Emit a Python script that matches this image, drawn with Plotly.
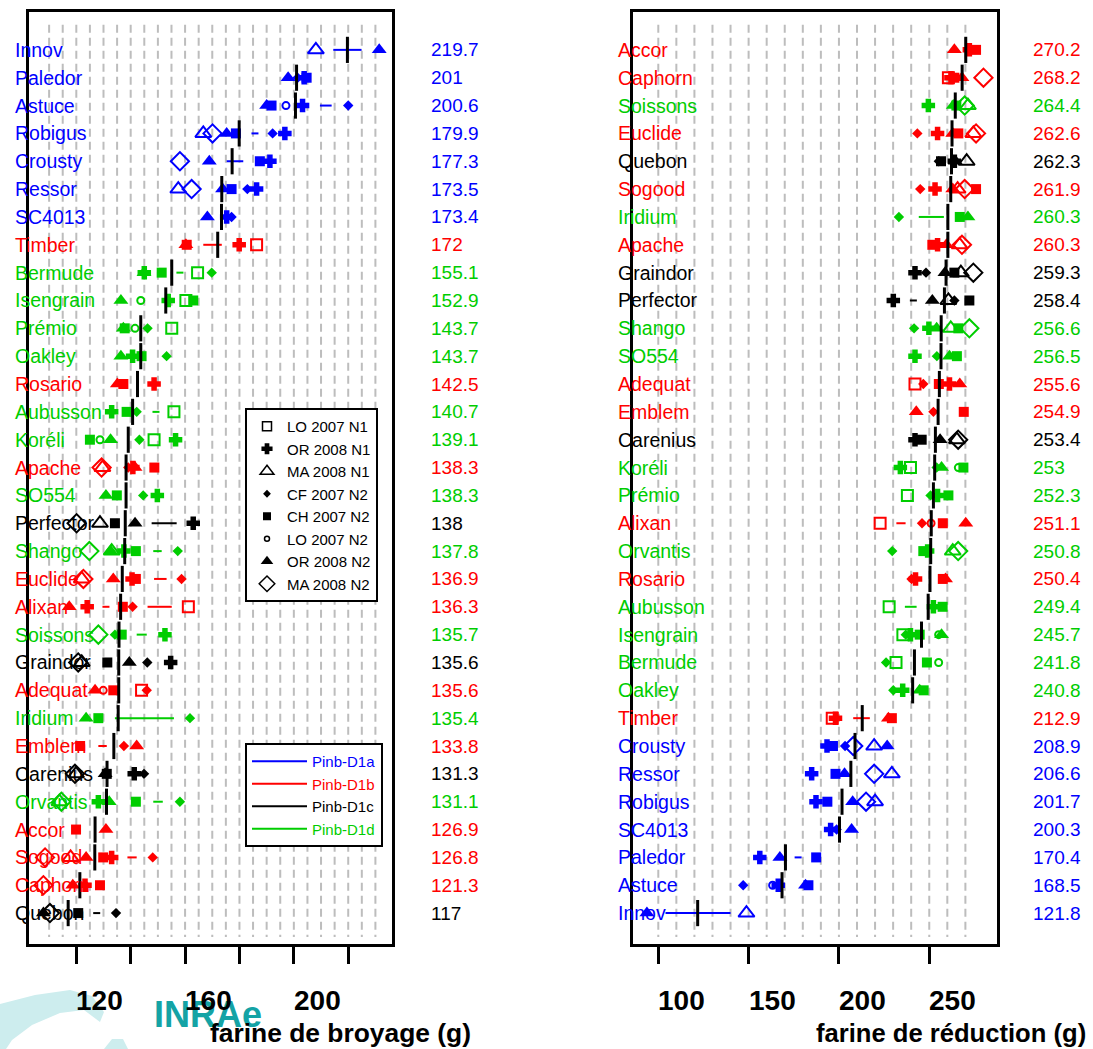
import plotly.graph_objects as go

W, H = 1093, 1049
N = None
FONT = "Liberation Sans, Arial, sans-serif"

trials = ["LO 2007 N1", "OR 2008 N1", "MA 2008 N1", "CF 2007 N2",
          "CH 2007 N2", "LO 2007 N2", "OR 2008 N2", "MA 2008 N2"]
trial_symbols = ["square-open", "cross", "triangle-up-open", "diamond",
                 "square", "circle-open", "triangle-up", "diamond-open"]
trial_sizes = [11, 10, 14, 8, 10, 7, 13, 14]
trial_linew = [2, 1.5, 2, 0, 0, 2, 0, 2]

allele_of = {
    "Innov": "a", "Paledor": "a", "Astuce": "a", "Robigus": "a", "Crousty": "a",
    "Ressor": "a", "SC4013": "a", "Timber": "b", "Bermude": "d", "Isengrain": "d",
    "Prémio": "d", "Oakley": "d", "Rosario": "b", "Aubusson": "d", "Koréli": "d",
    "Apache": "b", "SO554": "d", "Perfector": "c", "Shango": "d", "Euclide": "b",
    "Alixan": "b", "Soissons": "d", "Graindor": "c", "Adequat": "b", "Iridium": "d",
    "Emblem": "b", "Carenius": "c", "Orvantis": "d", "Accor": "b", "Sogood": "b",
    "Caphorn": "b", "Quebon": "c",
}
allele_names = ["Pinb-D1a", "Pinb-D1b", "Pinb-D1c", "Pinb-D1d"]
allele_keys = ["a", "b", "c", "d"]
allele_colors = {"a": "#0000FF", "b": "#FF0000", "c": "#000000", "d": "#00CD00"}

# ---------------- left panel : farine de broyage ----------------
left_varieties = ["Innov", "Paledor", "Astuce", "Robigus", "Crousty", "Ressor", "SC4013",
                  "Timber", "Bermude", "Isengrain", "Prémio", "Oakley", "Rosario",
                  "Aubusson", "Koréli", "Apache", "SO554", "Perfector", "Shango",
                  "Euclide", "Alixan", "Soissons", "Graindor", "Adequat", "Iridium",
                  "Emblem", "Carenius", "Orvantis", "Accor", "Sogood", "Caphorn", "Quebon"]
left_means = [219.7, 201, 200.6, 179.9, 177.3, 173.5, 173.4, 172, 155.1, 152.9, 143.7,
              143.7, 142.5, 140.7, 139.1, 138.3, 138.3, 138, 137.8, 136.9, 136.3, 135.7,
              135.6, 135.6, 135.4, 133.8, 131.3, 131.1, 126.9, 126.8, 121.3, 117]
left_LO07N1 = [N, N, N, N, N, N, N, 186.3, 164.6, 160.3, 155.1, N, N, 155.9, 148.6, N,
               N, N, N, N, 161.2, N, N, 144.0, N, N, N, N, N, N, N, N]
left_OR08N1 = [N, 203.8, 203.2, 196.7, 191.2, 186.3, 175.3, 179.9, 145.0, 153.8, N, 140.7,
               148.6, 133.0, 156.5, 140.8, 149.8, 163.0, 137.5, 140.5, 124.0, 152.6, 154.7,
               N, N, N, 141.3, 128.1, N, 133.0, 123.2, N]
left_MA08N1 = [208.1, N, N, 166.7, N, 157.5, N, N, N, N, N, N, N, N, N, 129.6, N, 128.7,
               133.0, 122.0, N, N, 122.0, N, N, N, 119.9, 113.8, N, 117.9, N, N]
left_CF07N2 = [N, 201.4, 220.0, 192.2, N, 182.9, 177.1, N, 169.8, N, 146.2, 153.2, N,
               142.2, 143.2, 139.1, 144.6, N, 157.3, 158.7, 140.7, 134.2, 146.1, 145.9,
               161.8, 137.5, 144.9, 158.1, N, 148.1, N, 134.6]
left_CH07N2 = [N, 204.7, 191.8, 178.7, 187.5, 177.1, N, 160.6, 151.4, 163.0, 137.8, 144.0,
               137.3, 138.5, 125.0, 148.7, 134.9, 134.2, 141.9, 141.9, 137.1, 136.7, 131.4,
               133.6, 128.1, 121.4, 131.2, 141.9, 119.9, 129.9, 128.7, 120.7]
left_LO07N2 = [N, N, 197.1, N, N, N, N, N, N, 143.7, 141.6, N, N, N, 128.7, N, N, N, N,
               N, N, N, N, 129.9, N, N, N, N, N, N, N, N]
left_OR08N2 = [231.4, 197.9, 190.0, 175.3, 168.9, 173.8, 168.2, 160.3, 144.9, 136.4, 137.3,
               136.4, 135.1, N, 132.6, 141.6, 130.9, 141.6, 132.6, 133.6, 117.4, N, 139.5,
               126.9, 123.6, 142.2, 130.6, 132.1, 130.9, 123.6, 118.7, 107.9]
left_MA08N2 = [N, N, N, 170.1, 158.1, 162.4, N, N, N, N, N, N, N, N, N, 129.3, N, 120.1,
               124.8, 122.6, N, 128.1, 120.7, N, N, N, 119.5, 114.5, N, 108.5, 107.9, 110.3]
left_seg_lo = [214.5, N, 209.6, N, 175.3, N, N, 166.7, N, N, N, N, N, N, N, N, N, 147.7,
               148.3, 148.6, 146.2, 142.2, N, N, 134.2, 128.1, N, 148.3, N, 138.8, N, N]
left_seg_hi = [224.9, N, 213.9, N, 181.4, N, N, 173.5, N, N, N, N, N, N, N, N, N, 156.9,
               151.4, 153.2, 155.1, 145.9, N, N, 155.9, 131.2, N, 151.8, N, 142.2, N, N]
left_dash = [N, N, N, 185.7, N, N, N, N, 158.1, N, N, N, N, 149.3, N, N, N, N, N, N,
             130.9, N, N, N, N, N, N, N, N, N, N, 127.5]

# ---------------- right panel : farine de réduction ----------------
right_varieties = ["Accor", "Caphorn", "Soissons", "Euclide", "Quebon", "Sogood", "Iridium",
                   "Apache", "Graindor", "Perfector", "Shango", "SO554", "Adequat", "Emblem",
                   "Carenius", "Koréli", "Prémio", "Alixan", "Orvantis", "Rosario",
                   "Aubusson", "Isengrain", "Bermude", "Oakley", "Timber", "Crousty",
                   "Ressor", "Robigus", "SC4013", "Paledor", "Astuce", "Innov"]
right_means = [270.2, 268.2, 264.4, 262.6, 262.3, 261.9, 260.3, 260.3, 259.3, 258.4, 256.6,
               256.5, 255.6, 254.9, 253.4, 253, 252.3, 251.1, 250.8, 250.4, 249.4, 245.7,
               241.8, 240.8, 212.9, 208.9, 206.6, 201.7, 200.3, 170.4, 168.5, 121.8]
right_LO07N1 = [N, 260.6, N, N, N, N, N, N, N, N, N, N, 242.1, N, N, 239.6, 237.9, 222.8,
                N, N, 227.8, 235.4, 231.6, N, 196.3, N, N, N, N, N, N, N]
right_OR08N1 = [272.2, 262.0, 249.5, 254.6, 263.9, 253.2, N, 254.6, 242.1, 230.1, 249.8,
                242.1, 261.2, N, 242.1, 234.0, 254.6, N, 249.1, 242.4, 252.3, 239.6, N,
                235.3, 198.1, 193.4, 184.9, 187.3, 195.4, 156.2, 166.4, N]
right_MA08N1 = [N, N, 271.4, 274.4, 270.7, 265.7, N, 266.8, 267.5, 260.6, 261.9, N, N, N,
                265.3, N, N, N, 263.0, N, N, N, N, N, N, 219.5, 229.3, 220.0, N, N, N, 148.8]
right_CF07N2 = [N, N, N, 243.4, 255.3, 245.0, 233.2, N, 248.2, 263.9, 241.6, 254.2, 246.7,
                252.3, N, 254.1, 250.7, 246.0, 229.5, 240.2, N, 237.0, 226.1, 230.1, N,
                203.4, N, N, 198.7, N, 147.0, N]
right_CH07N2 = [275.9, 263.9, 265.0, 266.1, 256.5, 275.9, 266.9, 251.7, 263.9, 272.2, 266.1,
                265.3, 255.3, 269.1, 245.8, 268.9, 260.6, 257.5, 246.7, 257.5, 257.4, 244.7,
                248.7, 246.9, 229.3, 196.7, 198.1, 193.6, N, 187.4, 183.1, N]
right_LO07N2 = [N, N, N, N, N, N, N, N, N, N, N, N, N, N, N, 266.1, N, 251.0, N, N, N,
                255.2, 255.2, N, N, N, N, N, N, N, 163.3, N]
right_OR08N2 = [263.9, 268.1, 263.3, 263.0, 264.5, 263.0, 271.4, 259.5, 258.7, 251.7, 254.1,
                261.2, 266.9, 242.8, 256.0, 256.8, N, 270.2, N, 259.0, N, 256.8, N, 244.7,
                227.4, 226.7, 203.1, 207.6, 207.0, 167.3, 181.5, 93.7]
right_MA08N2 = [N, 280.0, 269.6, 275.9, N, 269.6, N, 268.1, 274.4, N, 272.2, N, N, N, 266.0,
                N, N, N, 266.0, N, N, N, N, N, N, 207.9, 219.5, 215.0, N, N, N, N]
right_seg_lo = [N, N, N, N, N, N, 244.2, N, N, N, N, N, N, N, N, N, N, 231.8, N, N, 236.5,
                N, N, N, 207.9, N, N, N, N, N, N, 104.0]
right_seg_hi = [N, N, N, N, N, N, 258.1, N, N, N, N, N, N, N, N, N, N, 236.9, N, N, 243.0,
                N, N, N, 217.1, N, N, N, N, N, N, 140.0]
right_dash = [N, N, N, N, N, N, N, N, N, 241.2, N, N, N, N, N, N, N, N, N, N, N, N, N, N,
              N, N, N, N, N, 177.4, N, N]

left_ticks = [120, 140, 160, 180, 200, 220]
left_ticklabels = [120, 160, 200]
left_grid = list(range(110, 235, 5))
right_ticks = [100, 150, 200, 250]
right_ticklabels = [100, 150, 200, 250]
right_grid = list(range(100, 275, 10))

left_xrange = [102.6, 236.1]
right_xrange = [86.0, 287.5]
y_range = [-0.11, 33.36]
grid_span = [0.14, 32.9]

fig = go.Figure()


def add_panel(xa, ya, varieties, means, trial_data, seg_lo, seg_hi, dash, grid):
    n = len(varieties)
    rows = [n - i for i in range(n)]
    cols = [allele_colors[allele_of[v]] for v in varieties]
    # dashed grid
    gx, gy = [], []
    for g in grid:
        gx += [g, g, None]
        gy += [grid_span[1], grid_span[0], None]
    fig.add_trace(go.Scatter(x=gx, y=gy, mode="lines", xaxis=xa, yaxis=ya,
                             line=dict(color="#BDBDBD", width=2, dash="8px,5px"),
                             hoverinfo="skip", showlegend=False))
    # segments
    for lo, hi, r, c in zip(seg_lo, seg_hi, rows, cols):
        if lo is None:
            continue
        fig.add_trace(go.Scatter(x=[lo, hi], y=[r, r], mode="lines", xaxis=xa, yaxis=ya,
                                 line=dict(color=c, width=2), showlegend=False,
                                 hoverinfo="skip"))
    dx = [d for d in dash if d is not None]
    dy = [r for d, r in zip(dash, rows) if d is not None]
    dc = [c for d, c in zip(dash, cols) if d is not None]
    fig.add_trace(go.Scatter(x=dx, y=dy, mode="markers", xaxis=xa, yaxis=ya,
                             marker=dict(symbol="line-ew", size=5,
                                         line=dict(color=dc, width=2)),
                             showlegend=False, hoverinfo="skip"))
    # trial markers
    for vals, sym, sz, lw in zip(trial_data, trial_symbols, trial_sizes, trial_linew):
        xs = [v for v in vals if v is not None]
        ys = [r for v, r in zip(vals, rows) if v is not None]
        cs = [c for v, c in zip(vals, cols) if v is not None]
        fig.add_trace(go.Scatter(
            x=xs, y=ys, mode="markers", xaxis=xa, yaxis=ya,
            marker=dict(symbol=sym, size=sz, color=cs, line=dict(color=cs, width=lw)),
            showlegend=False, hoverinfo="skip"))
    # mean lines
    mx, my = [], []
    for m, r in zip(means, rows):
        mx += [m, m, None]
        my += [r - 0.47, r + 0.47, None]
    fig.add_trace(go.Scatter(x=mx, y=my, mode="lines", xaxis=xa, yaxis=ya,
                             line=dict(color="black", width=3),
                             showlegend=False, hoverinfo="skip"))
    return rows, cols


left_rows, left_cols = add_panel(
    "x", "y", left_varieties, left_means,
    [left_LO07N1, left_OR08N1, left_MA08N1, left_CF07N2, left_CH07N2, left_LO07N2,
     left_OR08N2, left_MA08N2], left_seg_lo, left_seg_hi, left_dash, left_grid)
right_rows, right_cols = add_panel(
    "x2", "y2", right_varieties, right_means,
    [right_LO07N1, right_OR08N1, right_MA08N1, right_CF07N2, right_CH07N2, right_LO07N2,
     right_OR08N2, right_MA08N2], right_seg_lo, right_seg_hi, right_dash, right_grid)

# legend 1: trials
for name, sym, sz, lw in zip(trials, trial_symbols, trial_sizes, trial_linew):
    fig.add_trace(go.Scatter(x=[None], y=[None], mode="markers", name=name,
                             marker=dict(symbol=sym, size=sz - 2, color="black",
                                         line=dict(color="black", width=min(lw, 1.5))),
                             legend="legend"))
# legend 2: alleles
for nm, k in zip(allele_names, allele_keys):
    fig.add_trace(go.Scatter(x=[None], y=[None], mode="lines",
                             name=f'<span style="color:{allele_colors[k]}">{nm}</span>',
                             line=dict(color=allele_colors[k], width=2),
                             legend="legend2", xaxis="x", yaxis="y"))


def px(x):
    return x / W


def py(y):
    return 1 - y / H


annotations = []
# logo text (drawn first, under the tick labels)
annotations.append(dict(text="<b>INRAe</b>", x=px(152), y=py(1015), xref="paper", yref="paper",
                        xanchor="left", yanchor="middle", showarrow=False,
                        font=dict(family=FONT, size=36, color="#14A3A5")))

for vars_, means, rows, cols, xlab, xnum, yref in [
        (left_varieties, left_means, left_rows, left_cols, 13, 429, "y"),
        (right_varieties, right_means, right_rows, right_cols, 616, 1031, "y2")]:
    for v, m, r, c in zip(vars_, means, rows, cols):
        annotations.append(dict(text=v, x=px(xlab), y=r, xref="paper", yref=yref,
                                xanchor="left", yanchor="middle", showarrow=False,
                                font=dict(family=FONT, size=19.5, color=c)))
        annotations.append(dict(text=f"{m:g}", x=px(xnum), y=r, xref="paper", yref=yref,
                                xanchor="left", yanchor="middle", showarrow=False,
                                font=dict(family=FONT, size=19, color=c)))

for t in left_ticklabels:
    annotations.append(dict(text=f"<b>{t}</b>", x=t, y=py(1000), xref="x", yref="paper",
                            xanchor="left", yanchor="middle", showarrow=False, xshift=-2,
                            font=dict(family=FONT, size=28, color="black")))
for t in right_ticklabels:
    annotations.append(dict(text=f"<b>{t}</b>", x=t, y=py(1000), xref="x2", yref="paper",
                            xanchor="left", yanchor="middle", showarrow=False, xshift=-2,
                            font=dict(family=FONT, size=28, color="black")))

annotations.append(dict(text="<b>farine de broyage (g)</b>", x=px(208), y=py(1033),
                        xref="paper", yref="paper", xanchor="left", yanchor="middle",
                        showarrow=False, font=dict(family=FONT, size=26.4, color="black")))
annotations.append(dict(text="<b>farine de réduction (g)</b>", x=px(814), y=py(1033),
                        xref="paper", yref="paper", xanchor="left", yanchor="middle",
                        showarrow=False, font=dict(family=FONT, size=25.6, color="black")))

# decorative logo arc (light cyan)
logo_outer = [(0, 1004), (35, 995), (70, 990), (92, 996), (104, 1012), (100, 1022)]
logo_inner = [(84, 1010), (60, 1013), (32, 1025), (12, 1040), (6, 1049), (0, 1049)]
pts = logo_outer + logo_inner
path = "M " + " L ".join(f"{px(a):.5f},{py(b):.5f}" for a, b in pts) + " Z"
logo_piece = [(104, 1049), (112, 1039), (123, 1039), (128, 1049)]
path2 = "M " + " L ".join(f"{px(a):.5f},{py(b):.5f}" for a, b in logo_piece) + " Z"
shapes = [dict(type="path", path=path, xref="paper", yref="paper", layer="below",
               fillcolor="#CDEDEE", line=dict(width=0)),
          dict(type="path", path=path2, xref="paper", yref="paper", layer="below",
               fillcolor="#CDEDEE", line=dict(width=0))]

axis_common = dict(showgrid=False, zeroline=False, showline=True, mirror=True,
                   linecolor="black", linewidth=3)
fig.update_layout(
    width=W, height=H, margin=dict(l=0, r=0, t=0, b=0),
    paper_bgcolor="white", plot_bgcolor="white",
    xaxis=dict(domain=[px(29), px(392)], range=left_xrange, tickvals=left_ticks,
               showticklabels=False, ticks="outside", ticklen=17, tickwidth=3,
               tickcolor="black", anchor="y", **axis_common),
    yaxis=dict(domain=[py(944), py(12)], range=y_range, showticklabels=False,
               ticks="", anchor="x", **axis_common),
    xaxis2=dict(domain=[px(633), px(997)], range=right_xrange, tickvals=right_ticks,
                showticklabels=False, ticks="outside", ticklen=17, tickwidth=3,
                tickcolor="black", anchor="y2", **axis_common),
    yaxis2=dict(domain=[py(944), py(12)], range=y_range, showticklabels=False,
                ticks="", anchor="x2", **axis_common),
    legend=dict(x=px(245), y=py(408), xanchor="left", yanchor="top",
                bgcolor="white", bordercolor="black", borderwidth=2,
                font=dict(family=FONT, size=15, color="black"), tracegroupgap=0),
    legend2=dict(x=px(245), y=py(743), xanchor="left", yanchor="top",
                 bgcolor="white", bordercolor="black", borderwidth=2, itemwidth=55,
                 font=dict(family=FONT, size=15, color="black"), tracegroupgap=0),
    annotations=annotations, shapes=shapes, showlegend=True,
)

fig.write_html("out.html")
